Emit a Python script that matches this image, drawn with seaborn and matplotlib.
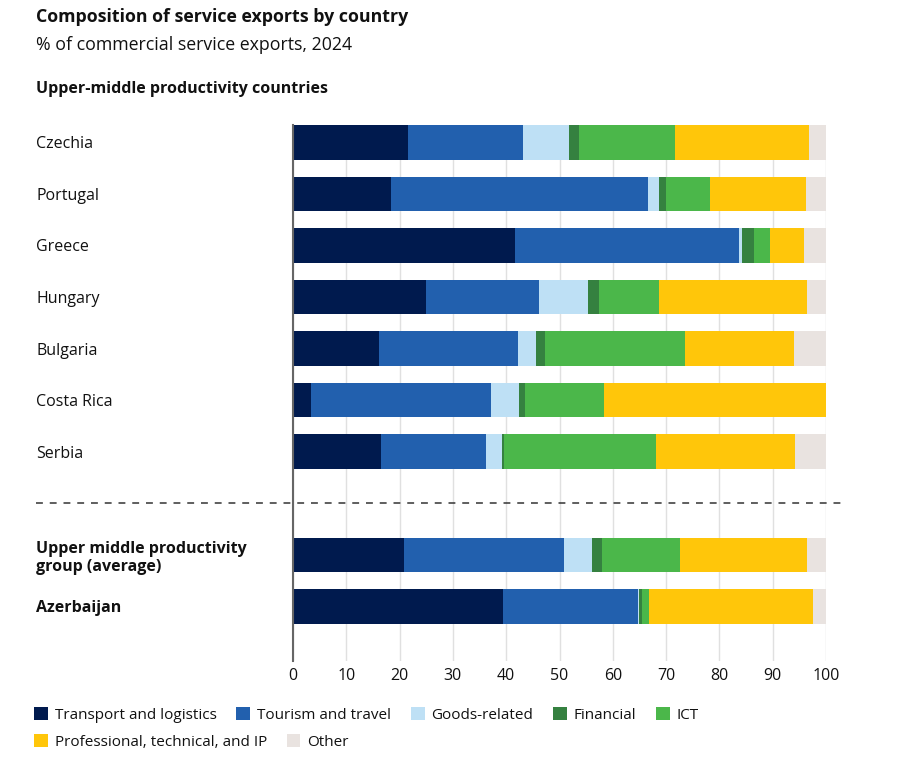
import numpy as np
import pandas as pd
import matplotlib.pyplot as plt
import seaborn as sns
from matplotlib.patches import Patch

# Data (% of commercial service exports, 2024)
countries = ["Czechia", "Portugal", "Greece", "Hungary", "Bulgaria", "Costa Rica", "Serbia",
             " ", "Upper middle productivity\ngroup (average)", "Azerbaijan"]
sectors = ["Transport and logistics", "Tourism and travel", "Goods-related", "Financial",
           "ICT", "Professional, technical, and IP", "Other"]
colors = ["#001a4e", "#2260ae", "#bee0f5", "#358140", "#4bb74a", "#ffc60a", "#e9e3e0"]

transport = [21.6, 18.4, 41.6, 25.0, 16.1, 3.4, 16.6, np.nan, 20.8, 39.4]
tourism = [21.6, 48.2, 42.0, 21.1, 26.1, 33.7, 19.6, np.nan, 30.1, 25.3]
goods = [8.6, 2.1, 0.7, 9.2, 3.3, 5.3, 3.0, np.nan, 5.2, 0.2]
financial = [1.9, 1.3, 2.1, 2.1, 1.8, 1.2, 0.4, np.nan, 1.9, 0.5]
ict = [17.9, 8.2, 3.1, 11.3, 26.3, 14.7, 28.5, np.nan, 14.7, 1.4]
professional = [25.2, 18.0, 6.4, 27.7, 20.4, 41.7, 26.0, np.nan, 23.7, 30.8]
other = [3.2, 3.8, 4.1, 3.6, 6.0, 0.0, 5.9, np.nan, 3.6, 2.4]

df = pd.DataFrame({"country": countries, "Transport and logistics": transport,
                   "Tourism and travel": tourism, "Goods-related": goods,
                   "Financial": financial, "ICT": ict,
                   "Professional, technical, and IP": professional, "Other": other})
df = df[df["country"] != " "]
cum = df[sectors].cumsum(axis=1)

sns.set_style("white")
plt.rcParams["font.family"] = ["Open Sans", "Noto Sans", "DejaVu Sans"]

fig = plt.figure(figsize=(9, 7.63), dpi=100)
ax = fig.add_axes([293 / 900, (763 - 661) / 763, 533 / 900, 536 / 763])

# stacked bars: draw cumulative totals from the outermost layer inwards
for sector, color in reversed(list(zip(sectors, colors))):
    sns.barplot(x=cum[sector], y=df["country"], order=countries, orient="h",
                color=color, saturation=1, width=0.67, errorbar=None,
                linewidth=0, ax=ax, zorder=2)

ax.set_xlim(0, 100)
ax.set_ylim(10.06, -0.335)
ax.set_xticks(range(0, 101, 10))
ax.set_xlabel("")
ax.set_ylabel("")
ax.grid(axis="x", color="#e0e0e0", linewidth=1.0, zorder=0)
ax.set_axisbelow(True)
for side in ["top", "right", "bottom"]:
    ax.spines[side].set_visible(False)
ax.spines["left"].set_color("#666666")
ax.spines["left"].set_linewidth(1.5)
ax.spines["left"].set_zorder(3)

ax.tick_params(axis="x", length=0, pad=5, labelsize=11.5, labelcolor="#111111")
ax.tick_params(axis="y", length=0, pad=185, labelsize=11.5, labelcolor="#111111")
for lab in ax.get_yticklabels():
    lab.set_horizontalalignment("left")
    if lab.get_text() in ("Upper middle productivity\ngroup (average)", "Azerbaijan"):
        lab.set_fontweight("bold")

# dashed separator between the country list and the group rows
ax.plot([-0.482, 1.036], [7, 7], transform=ax.get_yaxis_transform(), clip_on=False,
        color="#333333", linewidth=1.1, linestyle=(0, (4.5, 4.5)), zorder=4)

fig.text(36 / 900, 1 - 17 / 763, "Composition of service exports by country",
         fontsize=12.8, fontweight="bold", va="center", ha="left", color="#111111")
fig.text(36 / 900, 1 - 45 / 763, "% of commercial service exports, 2024",
         fontsize=12.8, va="center", ha="left", color="#111111")
fig.text(36 / 900, 1 - 89 / 763, "Upper-middle productivity countries",
         fontsize=11.5, fontweight="bold", va="center", ha="left", color="#111111")

handles = [Patch(facecolor=c, edgecolor="none", label=s) for s, c in zip(sectors, colors)]
leg_kw = dict(frameon=False, loc="center left", borderaxespad=0, borderpad=0,
              fontsize=11, handlelength=0.9, handleheight=0.9, handletextpad=0.45,
              columnspacing=1.3, labelcolor="#111111")
fig.legend(handles=handles[:5], ncol=5, bbox_to_anchor=(34 / 900, 1 - 715 / 763), **leg_kw)
fig.legend(handles=handles[5:], ncol=2, bbox_to_anchor=(34 / 900, 1 - 742 / 763), **leg_kw)

fig.savefig("out.png", dpi=100)
